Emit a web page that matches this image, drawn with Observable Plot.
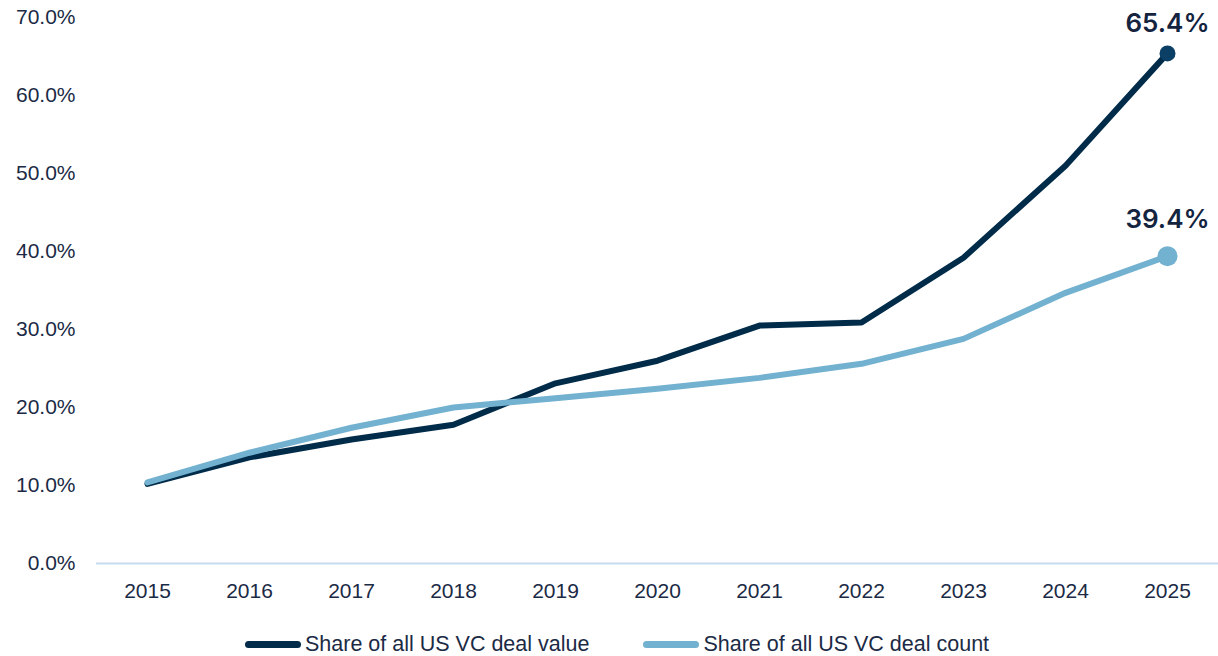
<!DOCTYPE html>
<html>
<head>
<meta charset="utf-8">
<script src="https://cdn.jsdelivr.net/npm/d3@7"></script>
<script src="https://cdn.jsdelivr.net/npm/@observablehq/plot@0.6"></script>
<style>
  html, body { margin: 0; padding: 0; background: #fff; width: 1218px; height: 656px; overflow: hidden; }
  #chart svg { display: block; }
  #legend { display: flex; align-items: center; height: 31px; margin-top: 4px; padding-left: 245px; font-family: "Liberation Sans", Arial, sans-serif; font-size: 21.5px; color: #1b2a45; }
  .item { display: flex; align-items: center; margin-right: 54px; }
  .sw { width: 56px; height: 7px; border-radius: 4px; margin-right: 4px; }
</style>
</head>
<body>
<div id="chart"></div>
<div id="legend"></div>
<script>
const years = [2015, 2016, 2017, 2018, 2019, 2020, 2021, 2022, 2023, 2024, 2025];
const valueShare = [10.2, 13.6, 15.9, 17.8, 23.1, 26.0, 30.5, 30.9, 39.2, 51.0, 65.4];
const countShare = [10.4, 14.2, 17.4, 20.0, 21.2, 22.4, 23.8, 25.6, 28.8, 34.7, 39.4];
const seriesNames = ["Share of all US VC deal value", "Share of all US VC deal count"];
const seriesColors = ["#002b49", "#72b1cf"];
const dotColors = ["#0b3f66", "#72b1cf"];
const yTicks = [0, 10, 20, 30, 40, 50, 60, 70];

const rows = [];
years.forEach((y, i) => {
  rows.push({year: String(y), v: valueShare[i], s: seriesNames[0]});
  rows.push({year: String(y), v: countShare[i], s: seriesNames[1]});
});
const lastYear = String(years[years.length - 1]);
const lastValue = rows.filter(d => d.year === lastYear && d.s === seriesNames[0]);
const lastCount = rows.filter(d => d.year === lastYear && d.s === seriesNames[1]);
const fmt = d => d.v.toFixed(1) + "%";

const chart = Plot.plot({
  width: 1218,
  height: 625,
  marginLeft: 96,
  marginRight: 0,
  marginTop: 17,
  marginBottom: 62,
  style: {fontFamily: "'Liberation Sans', Arial, sans-serif", fontSize: "21px", color: "#1b2a45", background: "#fff"},
  x: {type: "point", domain: years.map(String), padding: 0.5, label: null},
  y: {domain: [0, 70], label: null},
  color: {domain: seriesNames, range: seriesColors},
  marks: [
    Plot.axisY({ticks: yTicks, tickSize: 0, tickPadding: 21, tickFormat: d => d.toFixed(1) + "%", fontSize: 21, fill: "#1b2a45"}),
    Plot.axisX({tickSize: 0, tickPadding: 20, fontSize: 21, fill: "#1b2a45"}),
    Plot.ruleY([0], {stroke: "#c6dcf2", strokeWidth: 2}),
    Plot.line(rows, {x: "year", y: "v", stroke: "s", strokeWidth: 6, strokeLinejoin: "round", strokeLinecap: "round"}),
    Plot.dot(lastValue, {x: "year", y: "v", fill: dotColors[0], r: 8}),
    Plot.dot(lastCount, {x: "year", y: "v", fill: dotColors[1], r: 10}),
    Plot.text(lastValue, {x: "year", y: "v", text: fmt, dy: -30, fontSize: 26, fontWeight: 600, fontFamily: "Inter, sans-serif", fill: "#14243f"}),
    Plot.text(lastCount, {x: "year", y: "v", text: fmt, dy: -37, fontSize: 26, fontWeight: 600, fontFamily: "Inter, sans-serif", fill: "#14243f"})
  ]
});
document.getElementById("chart").appendChild(chart);

const legend = document.getElementById("legend");
seriesNames.forEach((n, i) => {
  const it = document.createElement("div");
  it.className = "item";
  const sw = document.createElement("div");
  sw.className = "sw";
  sw.style.background = seriesColors[i];
  const t = document.createElement("span");
  t.textContent = n;
  it.appendChild(sw);
  it.appendChild(t);
  legend.appendChild(it);
});
</script>
</body>
</html>
